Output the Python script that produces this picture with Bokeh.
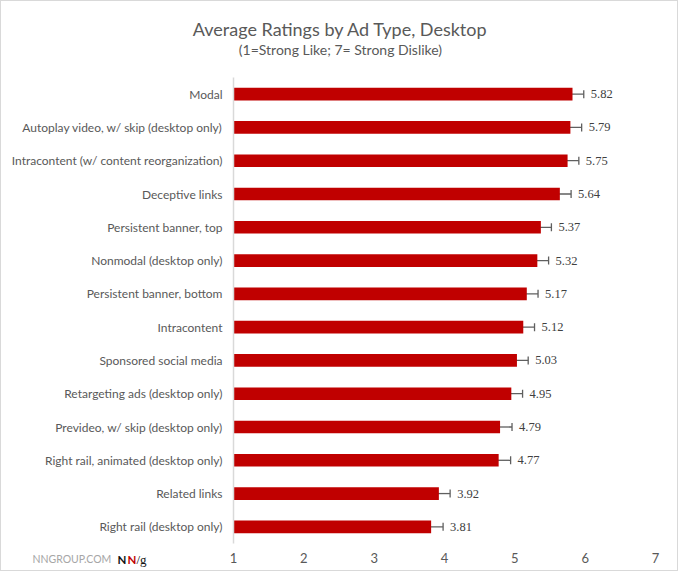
from bokeh.plotting import figure
from bokeh.models import (ColumnDataSource, Range1d, FactorRange, Whisker, TeeHead,
                          Label, LabelSet, FixedTicker)
from bokeh.embed import file_html
from bokeh.resources import INLINE

categories = [
    "Modal",
    "Autoplay video, w/ skip (desktop only)",
    "Intracontent (w/ content reorganization)",
    "Deceptive links",
    "Persistent banner, top",
    "Nonmodal (desktop only)",
    "Persistent banner, bottom",
    "Intracontent",
    "Sponsored social media",
    "Retargeting ads (desktop only)",
    "Prevideo, w/ skip (desktop only)",
    "Right rail, animated (desktop only)",
    "Related links",
    "Right rail (desktop only)",
]
ratings = [5.82, 5.79, 5.75, 5.64, 5.37, 5.32, 5.17, 5.12, 5.03, 4.95, 4.79, 4.77, 3.92, 3.81]
errors = [0.16, 0.16, 0.16, 0.16, 0.15, 0.16, 0.16, 0.16, 0.16, 0.16, 0.17, 0.17, 0.16, 0.17]
x_ticks = [1, 2, 3, 4, 5, 6, 7]

TITLE = "Average Ratings by Ad Type, Desktop"
SUBTITLE = "(1=Strong Like; 7= Strong Dislike)"
FONT = "Lato"
GRAY = "#595959"

src = ColumnDataSource(dict(
    cat=categories,
    val=ratings,
    lo=[r - e for r, e in zip(ratings, errors)],
    hi=[r + e for r, e in zip(ratings, errors)],
    lbl=[f"{r:.2f}" for r in ratings],
))

p = figure(width=678, height=571,
           y_range=FactorRange(*reversed(categories)),
           x_range=Range1d(1, 7),
           output_backend="svg", toolbar_location=None,
           min_border_left=232, min_border_right=24,
           min_border_top=76, min_border_bottom=29)
p.outline_line_color = None
p.xgrid.grid_line_color = None
p.ygrid.grid_line_color = None
p.background_fill_color = "white"
p.border_fill_color = "white"
p.styles = {"border": "1px solid #d9d9d9"}

p.hbar(y="cat", left=1, right="val", height=0.38, source=src,
       fill_color="#C00000", line_color=None)

w = Whisker(base="cat", lower="lo", upper="hi", dimension="width", source=src,
            line_color="#5f5f5f", line_width=1.3,
            upper_head=TeeHead(size=8, line_color="#5f5f5f", line_width=1.3),
            lower_head=TeeHead(size=8, line_color="#5f5f5f", line_width=1.3))
p.add_layout(w)

labels = LabelSet(x="hi", y="cat", text="lbl", source=src, x_offset=7,
                  text_baseline="middle", text_font=FONT, text_font_size="12.5px",
                  text_color="#404040")
p.add_layout(labels)

# axes
p.xaxis.ticker = FixedTicker(ticks=x_ticks)
p.xaxis.axis_line_color = None
p.xaxis.major_tick_line_color = None
p.xaxis.minor_tick_line_color = None
p.xaxis.major_tick_out = 0
p.xaxis.major_label_standoff = 9
p.xaxis.major_label_text_font = FONT
p.xaxis.major_label_text_font_size = "13px"
p.xaxis.major_label_text_color = GRAY

p.yaxis.axis_line_color = "#d9d9d9"
p.yaxis.axis_line_width = 1.5
p.yaxis.major_tick_line_color = None
p.yaxis.minor_tick_line_color = None
p.yaxis.major_tick_out = 0
p.yaxis.major_label_standoff = 11
p.yaxis.major_label_text_font = FONT
p.yaxis.major_label_text_font_size = "12px"
p.yaxis.major_label_text_color = GRAY


def text_label(x, y, text, size, color, side, font=FONT, style="normal", align="left"):
    p.add_layout(Label(x=x, y=y, text=text, text_align=align, text_baseline="middle",
                       text_font=font, text_font_size=size, text_font_style=style,
                       text_color=color), side)


# titles (placed in side panels so that they are not clipped to the frame)
text_label(2.521, 14.83, SUBTITLE, "14px", GRAY, "above", align="center")
text_label(2.521, 15.47, TITLE, "18px", GRAY, "above", align="center")

# NN/g logo
text_label(-1.858, -0.48, "NNGROUP.COM", "10.5px", "#a6a6a6", "above")
text_label(-0.649, -0.48, "N", "11.5px", "#111111", "above", style="bold")
text_label(-0.507, -0.48, "N", "11.5px", "#C00000", "right", style="bold")
text_label(-0.379, -0.48, "/g", "13px", "#111111", "right", font="Liberation Serif")

open("out.html", "w").write(file_html(p, INLINE))
